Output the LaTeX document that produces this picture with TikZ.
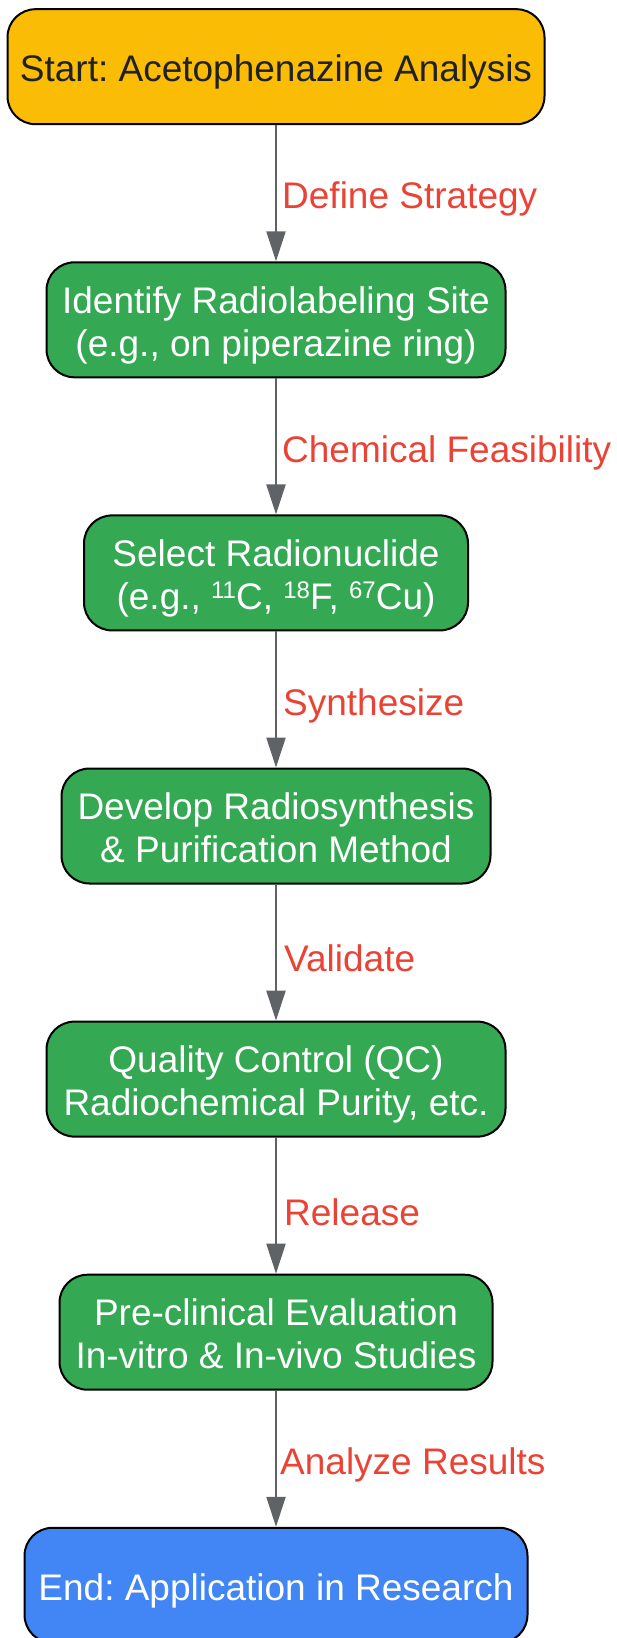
\documentclass[tikz,border=0pt]{standalone}
\usepackage{fontspec}
\setmainfont{Liberation Sans}
\usetikzlibrary{arrows.meta}
\frenchspacing
\definecolor{cyellow}{HTML}{FBBC05}
\definecolor{cgreen}{HTML}{34A853}
\definecolor{cblue}{HTML}{4285F4}
\definecolor{cred}{HTML}{EA4335}
\definecolor{cgray}{HTML}{5F6368}
\definecolor{cdark}{HTML}{202124}
\newcommand\supnum[1]{\raisebox{0.3em}{\fontsize{24}{24}\selectfont #1}}
\newcommand\dn[1]{\raisebox{-6.5pt}[\height][\depth]{\begin{tabular}{@{}c@{}}#1\end{tabular}}}
\tikzset{
  box/.style={draw=black, line width=2pt, rounded corners=28pt, minimum height=115pt,
    inner sep=0pt, font=\fontsize{37}{43}\selectfont},
  greenbox/.style={box, fill=cgreen, text=white},
  conn/.style={draw=cgray, line width=2.2pt, -{Triangle[length=30pt,width=19pt]}},
  lbl/.style={anchor=west, text=cred, inner sep=0pt, font=\fontsize{37}{43}\selectfont}
}
\begin{document}
\begin{tikzpicture}[x=1pt,y=-1pt]
\useasboundingbox (0,0) rectangle (617,1638);
\node[box, fill=cyellow, text=cdark, minimum width=537pt] (n1) at (276,66.7) {\dn{Start: Acetophenazine Analysis}};
\node[greenbox, minimum width=459pt] (n2) at (276,319.8) {\dn{Identify Radiolabeling Site\\(e.g., on piperazine ring)}};
\node[greenbox, minimum width=384pt] (n3) at (276,572.9) {\dn{Select Radionuclide\\(e.g., \supnum{11}C, \supnum{18}F, \supnum{67}Cu)}};
\node[greenbox, minimum width=429pt] (n4) at (276,826.0) {\dn{Develop Radiosynthesis\\\& Purification Method}};
\node[greenbox, minimum width=459pt] (n5) at (276,1079.1) {\dn{Quality Control (QC)\\Radiochemical Purity, etc.}};
\node[greenbox, minimum width=433pt] (n6) at (276,1332.2) {\dn{Pre-clinical Evaluation\\In-vitro \& In-vivo Studies}};
\node[box, fill=cblue, text=white, minimum width=503pt] (n7) at (276,1585.3) {\dn{End: Application in Research}};
\draw[conn] (n1) -- (n2);
\draw[conn] (n2) -- (n3);
\draw[conn] (n3) -- (n4);
\draw[conn] (n4) -- (n5);
\draw[conn] (n5) -- (n6);
\draw[conn] (n6) -- (n7);
\node[lbl] (l1) at (282,199.4) {Define Strategy};
\node[lbl] (l2) at (282,452.5) {Chemical Feasibility};
\node[lbl] (l3) at (283,705.6) {Synthesize};
\node[lbl] (l4) at (284,958.7) {Validate};
\node[lbl] (l5) at (284,1211.8) {Release};
\node[lbl] (l6) at (280,1464.9) {Analyze Results};
\end{tikzpicture}
\end{document}
